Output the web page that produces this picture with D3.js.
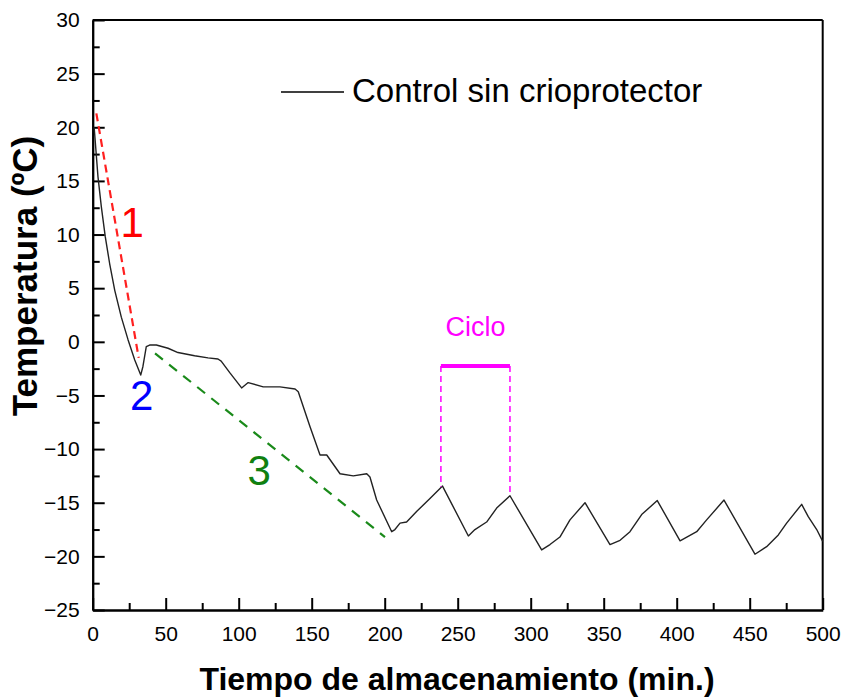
<!DOCTYPE html>
<html>
<head>
<meta charset="utf-8">
<script src="https://cdn.jsdelivr.net/npm/d3@7"></script>
<style>
  html, body { margin: 0; padding: 0; background: #fff; }
  svg { display: block; font-family: Arial, "Liberation Sans", sans-serif; }
</style>
</head>
<body>
<svg id="chart" width="844" height="698"></svg>
<script>
// ---- data ----
const timeMin = [1, 3.6, 5.9, 8.6, 11.6, 15.1, 19.6, 24.2, 28.8, 32.9, 34.4, 36.7, 39, 43.6, 51.6, 58.4, 69.8, 79, 85.8, 88, 94, 102, 106.5, 116.8, 128.3, 138.6, 140.8, 148.8, 155.7, 160.3, 169.4, 178.5, 187.7, 189.9, 194.5, 204.8, 207, 210.5, 215, 222, 231, 239.6, 257.3, 261.8, 269.8, 276.7, 285.8, 307.5, 313.2, 320, 326.9, 337.2, 354.3, 361.2, 368, 376, 386.7, 402.3, 413.7, 420.5, 432.4, 453.6, 461.6, 469.6, 475.3, 485.6, 490.1, 495.9, 500];
const tempC = [20.0, 15.4, 12.6, 9.8, 7.3, 4.8, 2.3, 0.2, -1.7, -3.1, -2.3, -0.45, -0.3, -0.3, -0.6, -1.0, -1.3, -1.5, -1.6, -1.8, -2.9, -4.3, -3.8, -4.2, -4.2, -4.4, -4.65, -7.9, -10.55, -10.55, -12.3, -12.5, -12.3, -12.6, -14.75, -17.7, -17.5, -16.9, -16.8, -15.8, -14.6, -13.45, -18.1, -17.5, -16.8, -15.5, -14.35, -19.4, -18.9, -18.2, -16.6, -15.0, -18.9, -18.5, -17.7, -16.1, -14.8, -18.55, -17.7, -16.6, -14.75, -19.8, -19.1, -18.0, -16.9, -15.15, -16.3, -17.5, -18.6];

const xMajorTicks = [0, 50, 100, 150, 200, 250, 300, 350, 400, 450, 500];
const xMinorTicks = [25, 75, 125, 175, 225, 275, 325, 375, 425, 475];
const yMajorTicks = [30, 25, 20, 15, 10, 5, 0, -5, -10, -15, -20, -25];
const yMinorTicks = [27.5, 22.5, 17.5, 12.5, 7.5, 2.5, -2.5, -7.5, -12.5, -17.5, -22.5];

// annotation lines (time, temp)
const phase1Line = [[2.5, 21.3], [31.5, -1.5]];
const phase3Line = [[42.7, -1.07], [200.2, -18.2]];
const cycleStart = 238.5, cycleEnd = 285.8, cycleBarTemp = -2.25;
const cyclePeakTemps = [-13.5, -14.35];

const seriesName = "Control sin crioprotector";
const xTitle = "Tiempo de almacenamiento (min.)";
const yTitle = "Temperatura (ºC)";

// ---- layout ----
const svg = d3.select("#chart");
const L = 92.7, R = 822.7, T = 20, B = 610;
const x = d3.scaleLinear().domain([0, 500]).range([L, R]);
const y = d3.scaleLinear().domain([-25, 30]).range([B, T]);

// box (top and right)
svg.append("line").attr("x1", L).attr("x2", R).attr("y1", T).attr("y2", T)
  .attr("stroke", "#000").attr("stroke-width", 2);
svg.append("line").attr("x1", R).attr("x2", R).attr("y1", T).attr("y2", B)
  .attr("stroke", "#000").attr("stroke-width", 2);

// axes
const yAxis = svg.append("g").attr("transform", `translate(${L},0)`)
  .call(d3.axisLeft(y).tickValues(yMajorTicks).tickSize(-12).tickSizeOuter(0).tickPadding(13).tickFormat(d3.format("d")));
const yMinor = svg.append("g").attr("transform", `translate(${L},0)`)
  .call(d3.axisLeft(y).tickValues(yMinorTicks).tickSize(-7).tickSizeOuter(0).tickFormat(""));
const xAxis = svg.append("g").attr("transform", `translate(0,${B})`)
  .call(d3.axisBottom(x).tickValues(xMajorTicks).tickSize(-12).tickSizeOuter(0).tickPadding(16).tickFormat(d3.format("d")));
const xMinor = svg.append("g").attr("transform", `translate(0,${B})`)
  .call(d3.axisBottom(x).tickValues(xMinorTicks).tickSize(-7).tickSizeOuter(0).tickFormat(""));

[yAxis, yMinor, xAxis, xMinor].forEach(g => {
  g.selectAll("path.domain").attr("stroke", "#000").attr("stroke-width", 2);
  g.selectAll(".tick line").attr("stroke", "#000").attr("stroke-width", 2);
  g.selectAll(".tick text").attr("fill", "#000").style("font-size", "21px")
    .style("font-family", "Arial, 'Liberation Sans', sans-serif");
});

// axis titles
svg.append("text").attr("x", 457).attr("y", 690)
  .attr("text-anchor", "middle").style("font-size", "32px").style("font-weight", "bold")
  .text(xTitle);
svg.append("text").attr("transform", "translate(37,276) rotate(-90)")
  .attr("text-anchor", "middle").style("font-size", "35px").style("font-weight", "bold")
  .text(yTitle);

// data line
const line = d3.line().x(d => x(d[0])).y(d => y(d[1]));
const pts = timeMin.map((t, i) => [t, tempC[i]]);
svg.append("path").datum(pts).attr("d", line)
  .attr("fill", "none").attr("stroke", "#222").attr("stroke-width", 1.4)
  .attr("stroke-linejoin", "round");

// annotations
svg.append("path").datum(phase1Line).attr("d", line)
  .attr("stroke", "#ff2020").attr("stroke-width", 2.2).attr("stroke-dasharray", "8,5").attr("fill", "none");
svg.append("path").datum(phase3Line).attr("d", line)
  .attr("stroke", "#1a8a1a").attr("stroke-width", 2.2).attr("stroke-dasharray", "10,8").attr("fill", "none");

svg.append("text").attr("x", x(27)).attr("y", y(9.77)).attr("text-anchor", "middle")
  .attr("fill", "#ff0000").style("font-size", "42px").text("1");
svg.append("text").attr("x", x(33.5)).attr("y", y(-6.4)).attr("text-anchor", "middle")
  .attr("fill", "#0000ff").style("font-size", "42px").text("2");
svg.append("text").attr("x", x(114)).attr("y", y(-13.35)).attr("text-anchor", "middle")
  .attr("fill", "#108010").style("font-size", "42px").text("3");

// cycle
const mag = "#ff00ff";
svg.append("line").attr("x1", x(cycleStart)).attr("x2", x(cycleEnd))
  .attr("y1", y(cycleBarTemp)).attr("y2", y(cycleBarTemp))
  .attr("stroke", mag).attr("stroke-width", 4);
[cycleStart, cycleEnd].forEach((t, i) => {
  svg.append("line").attr("x1", x(t)).attr("x2", x(t))
    .attr("y1", y(cycleBarTemp)).attr("y2", y(cyclePeakTemps[i]))
    .attr("stroke", mag).attr("stroke-width", 1.5).attr("stroke-dasharray", "6,4");
});
svg.append("text").attr("x", (x(cycleStart) + x(cycleEnd)) / 2).attr("y", 336)
  .attr("text-anchor", "middle").attr("fill", mag).style("font-size", "27px").text("Ciclo");

// legend
svg.append("line").attr("x1", 281).attr("x2", 344).attr("y1", 92).attr("y2", 92)
  .attr("stroke", "#000").attr("stroke-width", 1.5);
svg.append("text").attr("x", 352).attr("y", 102).attr("fill", "#000")
  .style("font-size", "33px").text(seriesName);
</script>
</body>
</html>
